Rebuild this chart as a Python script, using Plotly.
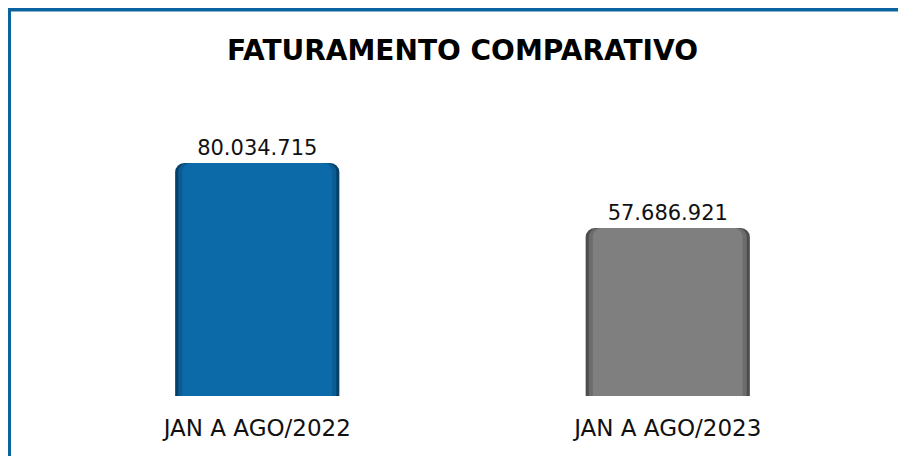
import plotly.graph_objects as go

# ---- data ----
categories = ["JAN A AGO/2022", "JAN A AGO/2023"]
values = [80034715, 57686921]
bar_colors = ["#0b6aa7", "#7f7f7f"]
edge_colors = ["#06406a", "#4d4d4d"]
mid_colors = ["#0a5c93", "#6c6c6c"]
title_text = "FATURAMENTO COMPARATIVO"

# ---- layout geometry (page body adds an 8px offset) ----
W, H = 898, 448
L, R, T, B = 44, 33, 122, 60
plot_w = W - L - R
plot_h = H - T - B
tallest_px = 233
y_top = max(values) * plot_h / tallest_px

fig = go.Figure()
layers = [
    (0.400, edge_colors),
    (0.385, mid_colors),
    (0.365, bar_colors),
]
for i, (w, cols) in enumerate(layers):
    last = i == len(layers) - 1
    fig.add_trace(go.Bar(
        x=categories, y=values, width=w,
        marker=dict(color=cols, line=dict(width=0), cornerradius=9),
        texttemplate="%{y:,.0f}" if last else None,
        textposition="outside" if last else "none",
        textfont=dict(family="DejaVu Sans", size=21, color="#111111"),
        cliponaxis=False, hoverinfo="skip", showlegend=False,
    ))

# blue frame (left and top edges)
def px_to_paper_x(px):
    return (px - L) / plot_w

def px_to_paper_y(py):
    return (H - B - py) / plot_h

fig.add_shape(type="path", xref="paper", yref="paper",
              path=f"M {px_to_paper_x(1)} {px_to_paper_y(H + 20)} "
                   f"L {px_to_paper_x(1)} {px_to_paper_y(1.5)} "
                   f"L {px_to_paper_x(W + 20)} {px_to_paper_y(1.5)}",
              line=dict(color="#0b64a0", width=4))

fig.update_layout(
    width=W, height=H,
    margin=dict(l=L, r=R, t=T, b=B),
    paper_bgcolor="white", plot_bgcolor="white",
    barmode="overlay",
    separators=",.",
    title=dict(text=f"<b>{title_text}</b>", x=0.5, xref="paper",
               y=1 - 42 / H, yref="container", yanchor="middle", xanchor="center",
               font=dict(family="DejaVu Sans", size=28, color="#000000")),
    xaxis=dict(showgrid=False, zeroline=False, showline=False, ticks="",
               ticklabelstandoff=16,
               tickfont=dict(family="DejaVu Sans", size=23, color="#111111")),
    yaxis=dict(range=[0, y_top], visible=False, showgrid=False, zeroline=False),
)

fig.write_html("out.html")
